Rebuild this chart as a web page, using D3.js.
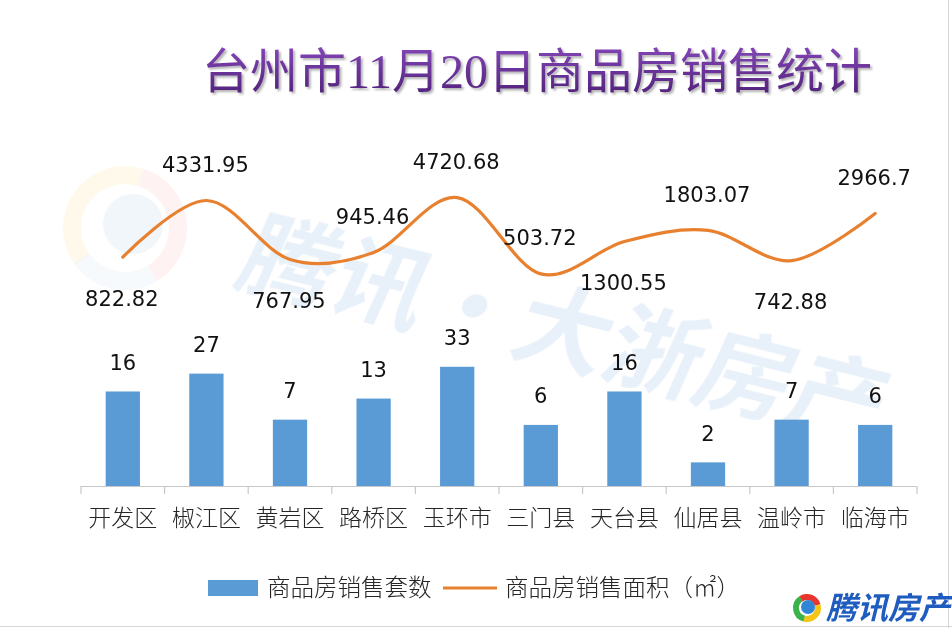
<!DOCTYPE html>
<meta charset="utf-8">
<style>
body { margin: 0; background: #fff; }
.title { font-family: "Liberation Serif", "Noto Sans CJK SC", serif; font-size: 48px; font-weight: 400; }
.cat { font-family: "Noto Sans CJK SC", sans-serif; font-size: 23px; font-weight: 300; fill: #262626; }
.val { font-family: "DejaVu Sans", sans-serif; font-size: 21px; fill: #111; }
.legend { font-family: "Noto Sans CJK SC", sans-serif; font-size: 23.5px; font-weight: 300; fill: #262626; }
.logo { font-family: "Noto Sans CJK SC", sans-serif; font-size: 31px; font-weight: bold; font-style: italic; fill: #1f5cc0; }
.mark { font-family: "Noto Sans CJK SC", sans-serif; font-size: 94px; font-weight: bold; fill: #c6dcf1; }
</style>
<svg width="952" height="628"></svg>
<script src="https://cdnjs.cloudflare.com/ajax/libs/d3/7.8.5/d3.min.js"></script>
<script>

var title = "台州市11月20日商品房销售统计";
var districts = ["开发区", "椒江区", "黄岩区", "路桥区", "玉环市", "三门县", "天台县", "仙居县", "温岭市", "临海市"];
var units = [16, 27, 7, 13, 33, 6, 16, 2, 7, 6];              // 商品房销售套数
var area = [822.82, 4331.95, 767.95, 945.46, 4720.68, 503.72, 1300.55, 1803.07, 742.88, 2966.7]; // 面积
var areaLabelSide = ["below", "above", "below", "above", "above", "above", "below", "above", "below", "above"];
var legendNames = ["商品房销售套数", "商品房销售面积（㎡）"];

var svg = d3.select("svg");
var defs = svg.append("defs");

// title gradient + shadow
var grad = defs.append("linearGradient").attr("id", "tg").attr("x1", 0).attr("y1", 0).attr("x2", 0).attr("y2", 1);
grad.append("stop").attr("offset", "0%").attr("stop-color", "#8446b8");
grad.append("stop").attr("offset", "100%").attr("stop-color", "#4f2078");
var f = defs.append("filter").attr("id", "sh").attr("x", "-5%").attr("y", "-20%").attr("width", "110%").attr("height", "150%");
f.append("feDropShadow").attr("dx", 2).attr("dy", 2).attr("stdDeviation", 1.2)
  .attr("flood-color", "#555").attr("flood-opacity", 0.45);

// watermark
var wm = svg.append("g").attr("opacity", 0.4);
var wl = wm.append("g").attr("transform", "translate(125,228)");
var ringArc = d3.arc().innerRadius(44).outerRadius(62);
[["#f7d36a", -2.2, 0.3], ["#f4a3a8", 0.3, 2.6], ["#b9d6f0", 2.6, 4.1]].forEach(function(s) {
  wl.append("path").attr("d", ringArc({startAngle: s[1], endAngle: s[2]})).attr("fill", s[0]).attr("opacity", 0.35);
});
wl.append("circle").attr("cx", 8).attr("cy", -4).attr("r", 30).attr("fill", "#b9d3ee").attr("opacity", 0.5);
wm.append("text").attr("class", "mark")
  .attr("transform", "translate(232,282) rotate(14) skewX(-10)")
  .text("腾讯·大浙房产");

// frame edges
svg.append("line").attr("x1", 948.5).attr("x2", 948.5).attr("y1", 0).attr("y2", 628).attr("stroke", "#d6d6d6");
svg.append("line").attr("x1", 0).attr("x2", 952).attr("y1", 626.5).attr("y2", 626.5).attr("stroke", "#d6d6d6");

// title
svg.append("text").attr("class", "title")
  .attr("x", 537).attr("y", 88)
  .attr("text-anchor", "middle")
  .attr("fill", "url(#tg)")
  .attr("filter", "url(#sh)")
  .text(title);

// scales: both series share a log axis
var x = d3.scaleBand().domain(districts).range([81, 917]).paddingInner(0.59).paddingOuter(0.295);
var y = d3.scaleLog().domain([1, 10000]).range([486, 172]);
var cx = function(d) { return x(d) + x.bandwidth() / 2; };

// bars
svg.append("g").selectAll("rect")
  .data(units)
  .enter().append("rect")
  .attr("x", function(d, i) { return x(districts[i]); })
  .attr("y", function(d) { return y(d); })
  .attr("width", x.bandwidth())
  .attr("height", function(d) { return y(1) - y(d); })
  .attr("fill", "#5b9bd5");

// category axis
var axis = svg.append("g").attr("transform", "translate(0,486)");
axis.append("line").attr("x1", 81).attr("x2", 917).attr("y1", 0.5).attr("y2", 0.5).attr("stroke", "#c8c8c8").attr("stroke-width", 1.2);
var bounds = districts.map(function(d) { return x(d) - x.step() * x.paddingInner() / 2; });
bounds.push(917);
axis.selectAll(".tk").data(bounds).enter().append("line")
  .attr("x1", function(d) { return d; }).attr("x2", function(d) { return d; })
  .attr("y1", 0).attr("y2", 8)
  .attr("stroke", "#c8c8c8").attr("stroke-width", 1.2);
axis.selectAll(".cat").data(districts).enter().append("text")
  .attr("class", "cat")
  .attr("x", cx).attr("y", 32)
  .attr("dy", "0.35em")
  .attr("text-anchor", "middle")
  .text(function(d) { return d; });

// bar labels
svg.append("g").selectAll("text")
  .data(units)
  .enter().append("text")
  .attr("class", "val")
  .attr("x", function(d, i) { return cx(districts[i]); })
  .attr("y", function(d) { return y(d) - 29; })
  .attr("dy", "0.36em")
  .attr("text-anchor", "middle")
  .text(function(d) { return d; });

// area line
var line = d3.line()
  .x(function(d, i) { return cx(districts[i]); })
  .y(function(d) { return y(d); })
  .curve(d3.curveCardinal.tension(0));
svg.append("path")
  .datum(area)
  .attr("d", line)
  .attr("fill", "none")
  .attr("stroke", "#e8812f")
  .attr("stroke-width", 3.2)
  .attr("stroke-linecap", "round");

svg.append("g").selectAll("text")
  .data(area)
  .enter().append("text")
  .attr("class", "val")
  .attr("x", function(d, i) { return cx(districts[i]) - 1; })
  .attr("y", function(d, i) { return y(d) + (areaLabelSide[i] == "above" ? -36 : 41); })
  .attr("dy", "0.36em")
  .attr("text-anchor", "middle")
  .text(function(d) { return d; });

// legend
var lg = svg.append("g").attr("transform", "translate(0,588)");
lg.append("rect").attr("x", 208).attr("y", -8).attr("width", 50).attr("height", 16).attr("fill", "#5b9bd5");
lg.append("text").attr("class", "legend").attr("x", 267).attr("y", 0).attr("dy", "0.36em").text(legendNames[0]);
lg.append("line").attr("x1", 443).attr("x2", 497).attr("y1", 0).attr("y2", 0).attr("stroke", "#e8812f").attr("stroke-width", 3.2);
lg.append("text").attr("class", "legend").attr("x", 505).attr("y", 0).attr("dy", "0.36em").text(legendNames[1]);

// logo
var logo = svg.append("g").attr("transform", "translate(807,608)");
var la = d3.arc().innerRadius(8).outerRadius(14);
[["#e8352e", -0.6, 1.3], ["#f5c518", 1.3, 3.4], ["#3cb34a", 3.4, 5.7]].forEach(function(s) {
  logo.append("path").attr("d", la({startAngle: s[1], endAngle: s[2]})).attr("fill", s[0]);
});
logo.append("circle").attr("r", 7).attr("cx", 1).attr("cy", -1).attr("fill", "#2f86d6");
svg.append("text").attr("class", "logo").attr("x", 826).attr("y", 619).text("腾讯房产");

</script>
